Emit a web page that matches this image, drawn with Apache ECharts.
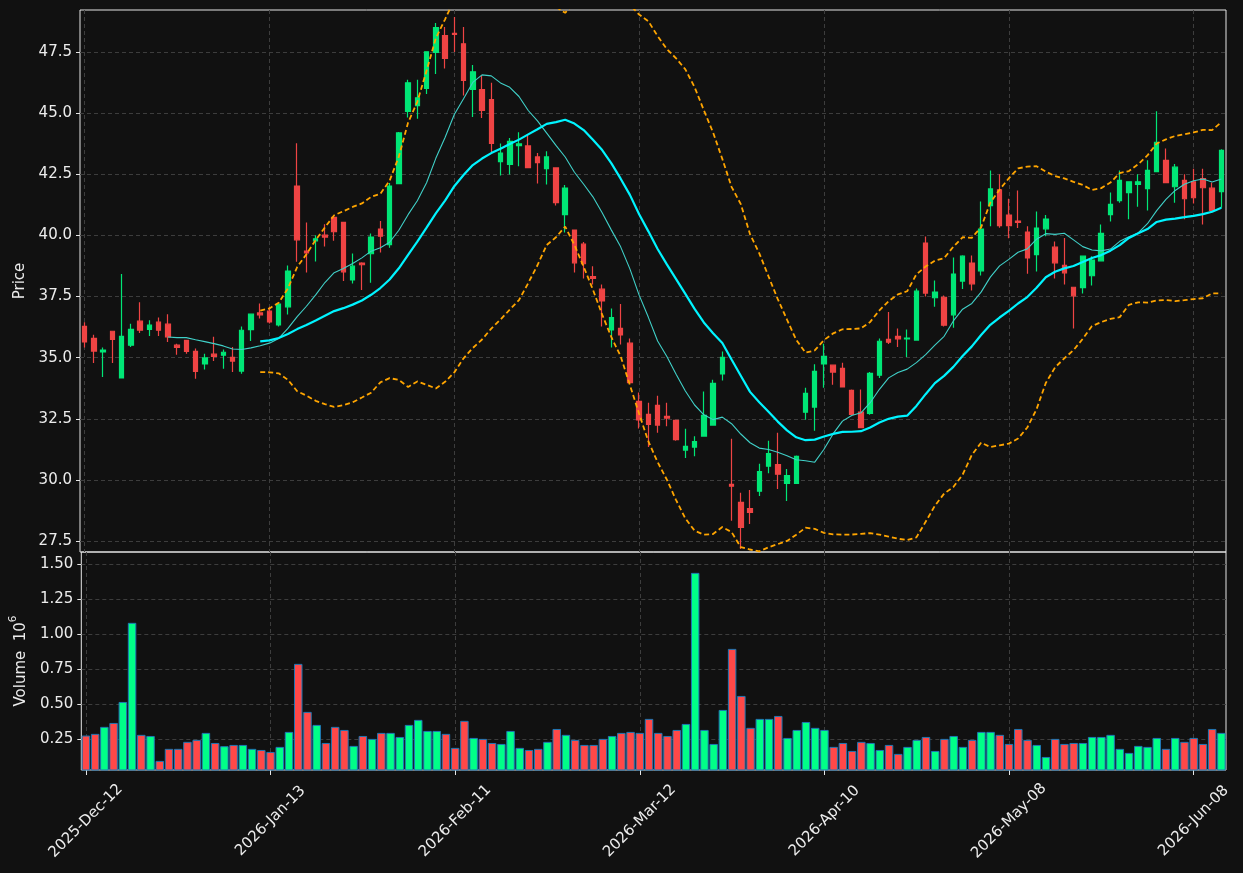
<!DOCTYPE html>
<html><head><meta charset="utf-8">
<script src="https://cdn.jsdelivr.net/npm/echarts@6/dist/echarts.min.js"></script>
<style>html,body{margin:0;padding:0;background:#111111;}#c{width:1243px;height:873px;}</style>
</head><body><div id="c"></div>
<script>
const dates = [
 '2025-Dec-12','2025-Dec-15','2025-Dec-16','2025-Dec-17','2025-Dec-18','2025-Dec-19','2025-Dec-22','2025-Dec-23','2025-Dec-24','2025-Dec-26','2025-Dec-29','2025-Dec-30','2025-Dec-31',
 '2026-Jan-02','2026-Jan-05','2026-Jan-06','2026-Jan-07','2026-Jan-08','2026-Jan-09','2026-Jan-12','2026-Jan-13','2026-Jan-14','2026-Jan-15','2026-Jan-16','2026-Jan-20','2026-Jan-21','2026-Jan-22','2026-Jan-23','2026-Jan-26','2026-Jan-27','2026-Jan-28','2026-Jan-29','2026-Jan-30',
 '2026-Feb-02','2026-Feb-03','2026-Feb-04','2026-Feb-05','2026-Feb-06','2026-Feb-09','2026-Feb-10','2026-Feb-11','2026-Feb-12','2026-Feb-13','2026-Feb-17','2026-Feb-18','2026-Feb-19','2026-Feb-20','2026-Feb-23','2026-Feb-24','2026-Feb-25','2026-Feb-26','2026-Feb-27',
 '2026-Mar-02','2026-Mar-03','2026-Mar-04','2026-Mar-05','2026-Mar-06','2026-Mar-09','2026-Mar-10','2026-Mar-11','2026-Mar-12','2026-Mar-13','2026-Mar-16','2026-Mar-17','2026-Mar-18','2026-Mar-19','2026-Mar-20','2026-Mar-23','2026-Mar-24','2026-Mar-25','2026-Mar-26','2026-Mar-27','2026-Mar-30','2026-Mar-31',
 '2026-Apr-01','2026-Apr-02','2026-Apr-06','2026-Apr-07','2026-Apr-08','2026-Apr-09','2026-Apr-10','2026-Apr-13','2026-Apr-14','2026-Apr-15','2026-Apr-16','2026-Apr-17','2026-Apr-20','2026-Apr-21','2026-Apr-22','2026-Apr-23','2026-Apr-24','2026-Apr-27','2026-Apr-28','2026-Apr-29','2026-Apr-30',
 '2026-May-01','2026-May-04','2026-May-05','2026-May-06','2026-May-07','2026-May-08','2026-May-11','2026-May-12','2026-May-13','2026-May-14','2026-May-15','2026-May-18','2026-May-19','2026-May-20','2026-May-21','2026-May-22','2026-May-26','2026-May-27','2026-May-28','2026-May-29',
 '2026-Jun-01','2026-Jun-02','2026-Jun-03','2026-Jun-04','2026-Jun-05','2026-Jun-08','2026-Jun-09','2026-Jun-10','2026-Jun-11'
];
const opens = [36.28,35.79,35.23,36.08,34.17,35.51,36.49,36.16,36.45,36.37,35.51,35.71,35.26,34.74,35.14,35.10,35.01,34.45,36.15,36.83,
 36.90,36.34,37.08,42.02,39.36,39.78,40.01,40.74,40.53,38.18,38.87,39.25,40.26,39.62,42.12,45.07,45.31,46.01,47.49,48.17,
 48.27,47.84,45.97,45.96,45.55,43.02,42.90,43.67,43.66,43.21,42.73,42.76,40.85,40.22,39.64,38.31,37.80,36.13,36.20,35.59,
 33.21,32.68,33.05,32.60,32.43,31.22,31.34,31.79,32.24,34.33,29.82,29.08,28.83,29.54,30.56,30.63,29.86,29.86,32.77,32.98,
 34.74,34.69,34.56,33.66,32.77,32.72,34.28,35.75,35.87,35.77,35.72,39.69,37.45,37.47,36.75,38.13,38.87,38.55,41.22,41.86,
 40.83,40.59,40.14,39.21,40.27,39.52,38.78,37.88,37.86,38.35,38.96,40.85,41.42,41.75,42.09,41.91,42.61,43.07,41.99,42.25,
 42.19,42.32,41.93,41.79];
const highs = [36.45,35.94,35.41,36.10,38.42,36.39,37.27,36.53,36.64,36.78,35.57,35.72,35.37,35.16,35.85,35.33,35.44,36.27,36.80,37.21,
 37.08,37.20,38.77,43.77,40.53,40.01,40.46,40.75,40.55,39.26,38.90,40.08,40.59,42.14,44.23,46.37,46.37,47.52,48.69,48.52,
 48.93,48.52,46.97,46.54,46.24,43.76,43.98,44.22,44.11,43.37,43.44,42.77,42.06,40.23,39.73,38.74,37.99,37.01,37.19,35.78,
 33.57,33.16,33.44,33.16,32.44,32.09,31.78,33.61,34.10,35.25,31.68,29.47,29.59,30.66,31.60,31.93,30.45,31.00,33.77,34.73,
 35.57,34.70,34.79,33.70,33.70,34.41,35.78,36.87,36.19,36.15,37.83,39.96,38.16,37.54,39.10,39.19,39.18,41.39,42.66,42.50,
 41.50,41.84,40.37,40.98,40.83,39.75,39.89,37.89,39.15,39.15,40.45,41.75,42.66,42.19,42.50,43.07,45.08,43.55,42.92,42.50,
 42.73,42.73,42.16,43.52];
const lows = [35.41,34.78,34.21,34.78,34.15,35.44,36.01,35.89,35.89,35.64,35.12,35.16,34.14,34.51,34.86,34.55,34.41,34.34,35.68,36.60,
 36.40,36.27,36.76,38.92,38.48,38.93,39.55,39.78,38.14,38.03,37.77,38.06,39.30,39.49,42.10,44.82,44.77,45.78,46.60,46.83,
 47.50,45.72,44.84,44.80,43.40,42.45,42.49,42.83,42.75,42.12,42.08,41.22,40.12,38.48,38.24,37.99,36.27,35.41,35.54,33.97,
 32.10,31.34,31.93,32.19,31.60,30.90,30.97,31.78,32.23,34.06,28.33,27.17,28.20,29.34,30.27,29.63,29.14,29.85,32.46,32.01,
 33.77,33.89,33.80,32.68,32.14,32.66,34.17,35.56,35.44,35.03,35.72,37.50,37.08,36.27,36.22,37.81,37.75,38.36,40.37,40.31,
 39.88,40.30,38.43,38.52,39.97,38.24,37.99,36.19,37.62,37.95,38.95,40.57,41.34,40.66,41.17,41.02,42.60,42.15,41.34,40.66,
 41.30,40.45,41.00,41.13];
const closes = [35.64,35.27,35.31,35.75,35.87,36.16,36.12,36.33,36.12,35.85,35.42,35.26,34.44,34.99,35.05,35.22,34.86,36.12,36.78,36.75,
 36.46,37.19,38.54,39.82,39.28,39.86,39.93,40.15,38.51,38.74,38.80,39.93,39.97,42.02,44.19,46.24,45.63,47.51,48.50,47.24,
 48.22,46.34,46.69,45.11,43.76,43.37,43.85,43.74,42.77,42.98,43.21,41.34,41.94,38.88,38.84,38.24,37.32,36.64,35.93,33.98,
 32.45,32.27,32.24,32.53,31.65,31.37,31.57,32.64,33.95,35.01,29.74,28.06,28.67,30.34,31.08,30.23,30.18,30.96,33.54,34.44,
 35.05,34.41,33.80,32.68,32.14,34.36,35.67,35.63,35.77,35.80,37.72,37.64,37.68,36.33,38.42,39.15,38.02,40.26,41.90,40.40,
 40.40,40.53,39.08,40.30,40.67,38.88,38.47,37.53,39.15,38.99,40.08,41.27,42.25,42.19,42.19,42.66,43.81,42.16,42.79,41.50,
 41.54,41.95,41.02,43.48];
// volume in units of 10^6
const volumes = [0.274,0.286,0.336,0.364,0.514,1.079,0.279,0.271,0.093,0.179,0.179,0.229,0.243,0.293,0.221,0.198,0.207,0.207,0.179,0.171,
 0.157,0.193,0.300,0.786,0.443,0.350,0.221,0.336,0.314,0.200,0.271,0.250,0.293,0.293,0.264,0.350,0.386,0.307,0.307,0.286,
 0.186,0.379,0.257,0.250,0.221,0.214,0.307,0.186,0.171,0.179,0.229,0.321,0.279,0.243,0.207,0.207,0.250,0.271,0.293,0.300,
 0.293,0.393,0.293,0.271,0.314,0.357,1.436,0.314,0.214,0.457,0.893,0.557,0.329,0.393,0.393,0.414,0.257,0.314,0.371,0.329,
 0.314,0.193,0.221,0.164,0.229,0.221,0.171,0.207,0.143,0.193,0.243,0.264,0.164,0.250,0.271,0.193,0.243,0.300,0.300,0.279,
 0.214,0.321,0.243,0.207,0.121,0.250,0.214,0.221,0.221,0.264,0.264,0.279,0.179,0.150,0.200,0.193,0.257,0.179,0.257,0.229,
 0.257,0.214,0.321,0.293];
const priceTicks = [27.5,30,32.5,35,37.5,40,42.5,45,47.5];
const volumeTicks = [0.25,0.5,0.75,1.0,1.25,1.5];

// moving averages and Bollinger bands computed from the closes (rolling windows)
function sma(arr, n) {
  return arr.map((v, i) => i < n - 1 ? null : arr.slice(i - n + 1, i + 1).reduce((a, b) => a + b, 0) / n);
}
function bollinger(arr, n, k, sign) {
  return arr.map((v, i) => {
    if (i < n - 1) return null;
    const w = arr.slice(i - n + 1, i + 1);
    const m = w.reduce((a, b) => a + b, 0) / n;
    const sd = Math.sqrt(w.reduce((a, b) => a + (b - m) * (b - m), 0) / (n - 1));
    return m + sign * k * sd;
  });
}
const ma10 = sma(closes, 10);
const ma20 = sma(closes, 20);
const bbUp = bollinger(closes, 20, 2, 1);
const bbLow = bollinger(closes, 20, 2, -1);

const FONT = 'DejaVu Sans';
const TXT = '#ececec';
const GRIDC = '#3d3d3d';
const FS = 15;
const upC = '#00e676', downC = '#ef4444';
const upV = '#00ff88', downV = '#ff4848';

const candles = opens.map((o, i) => [o, closes[i], lows[i], highs[i]]);
const volData = volumes.map((v, i) => ({ value: v, itemStyle: { color: closes[i] >= opens[i] ? upV : downV } }));

const chart = echarts.init(document.getElementById('c'), null, { renderer: 'canvas' });
chart.setOption({
  backgroundColor: '#111111',
  animation: false,
  textStyle: { fontFamily: FONT },
  grid: [
    { left: 80, width: 1146, top: 10, height: 542, show: true, borderColor: '#e6e6e6', borderWidth: 1, backgroundColor: 'transparent' },
    { left: 80, width: 1146, top: 552, height: 218, show: true, borderColor: '#e6e6e6', borderWidth: 1, backgroundColor: 'transparent' }
  ],
  xAxis: [
    { type: 'category', gridIndex: 0, data: dates, boundaryGap: true,
      axisLine: { show: false }, axisTick: { show: false }, axisLabel: { show: false },
      splitLine: { show: true, interval: 19, alignWithLabel: true, lineStyle: { color: GRIDC, type: [4, 3], width: 1 } } },
    { type: 'category', gridIndex: 1, data: dates, boundaryGap: true,
      axisLine: { show: false },
      axisTick: { show: true, interval: 19, alignWithLabel: true, length: 5, lineStyle: { color: '#e6e6e6' } },
      axisLabel: { show: true, interval: 19, rotate: 45, align: 'center', verticalAlign: 'middle', margin: 51,
        color: TXT, fontSize: FS, fontFamily: FONT },
      splitLine: { show: true, interval: 19, alignWithLabel: true, lineStyle: { color: GRIDC, type: [4, 3], width: 1 } } }
  ],
  yAxis: [
    { type: 'value', gridIndex: 0, min: 27.05, max: 49.22, scale: true,
      name: 'Price', nameLocation: 'middle', nameRotate: 90, nameGap: 48,
      nameTextStyle: { color: TXT, fontSize: FS, fontFamily: FONT },
      axisLine: { show: false },
      axisTick: { show: true, length: 4, customValues: priceTicks, lineStyle: { color: '#e6e6e6' } },
      axisLabel: { color: TXT, fontSize: FS, fontFamily: FONT, margin: 8, customValues: priceTicks, formatter: v => v.toFixed(1) },
      splitLine: { show: true, lineStyle: { color: GRIDC, type: [4, 3], width: 1 } } },
    { type: 'value', gridIndex: 1, min: 0.3 * Math.min(...volumes), max: 1.585,
      name: '{a|Volume  10}{b|6}', nameLocation: 'middle', nameRotate: 90, nameGap: 49,
      nameTextStyle: { color: TXT, fontSize: FS, fontFamily: FONT,
        rich: { a: { fontSize: FS, color: TXT, fontFamily: FONT, verticalAlign: 'bottom', lineHeight: 21 },
                b: { fontSize: 10.5, color: TXT, fontFamily: FONT, verticalAlign: 'top', lineHeight: 10 } } },
      axisLine: { show: false },
      axisTick: { show: true, length: 4, customValues: volumeTicks, lineStyle: { color: '#e6e6e6' } },
      axisLabel: { color: TXT, fontSize: FS, fontFamily: FONT, margin: 8, customValues: volumeTicks, formatter: v => v.toFixed(2) },
      splitLine: { show: true, lineStyle: { color: GRIDC, type: [4, 3], width: 1 } } }
  ],
  series: [
    { type: 'candlestick', xAxisIndex: 0, yAxisIndex: 0, data: candles, barWidth: 5,
      itemStyle: { color: upC, color0: downC, borderColor: upC, borderColor0: downC, borderWidth: 1.2 } },
    { type: 'line', name: 'MA10', xAxisIndex: 0, yAxisIndex: 0, data: ma10, showSymbol: false, symbol: 'none',
      lineStyle: { color: '#40d0c8', width: 1.1 }, z: 3 },
    { type: 'line', name: 'MA20', xAxisIndex: 0, yAxisIndex: 0, data: ma20, showSymbol: false, symbol: 'none',
      lineStyle: { color: '#00f4ff', width: 2.2 }, z: 3 },
    { type: 'line', name: 'BB upper', xAxisIndex: 0, yAxisIndex: 0, data: bbUp, showSymbol: false, symbol: 'none',
      lineStyle: { color: '#ffa500', width: 1.8, type: [5, 3] }, z: 3 },
    { type: 'line', name: 'BB lower', xAxisIndex: 0, yAxisIndex: 0, data: bbLow, showSymbol: false, symbol: 'none',
      lineStyle: { color: '#ffa500', width: 1.8, type: [5, 3] }, z: 3 },
    { type: 'bar', xAxisIndex: 1, yAxisIndex: 1, data: volData, barCategoryGap: '8%',
      itemStyle: { borderColor: '#1f77b4', borderWidth: 1 } }
  ]
});
</script></body></html>
